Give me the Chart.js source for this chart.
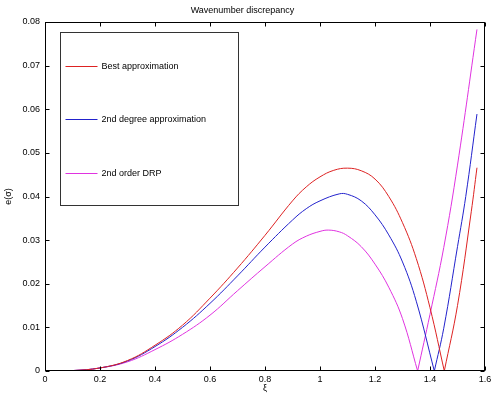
<!DOCTYPE html><html lang="en">
<head>
  <meta charset="UTF-8" />
  <title>Wavenumber discrepancy</title>
  <style>
    body { margin:0; background:#fff; }
    #wrap { width:491px; height:398px; }
  </style>
  <script src="https://cdn.jsdelivr.net/npm/chart.js"></script>
</head>
<body>
<div id="wrap"><canvas id="chart" width="491" height="398"></canvas></div>
<script>
  // values
  const xiBest = [0,0.1,0.2,0.3,0.4,0.5,0.6,0.7,0.8,0.9,0.95,1.0,1.05,1.1,1.15,1.2,1.25,1.3,1.35,1.4,1.452,1.5,1.55,1.5708];
  const eBest  = [0,0.0001,0.0007,0.0024,0.0059,0.0105,0.0167,0.0236,0.0311,0.0390,0.0422,0.0445,0.0460,0.0465,0.0459,0.0440,0.0400,0.0340,0.0258,0.0145,0,0.0150,0.0365,0.0466];
  const xiDeg  = [0,0.1,0.2,0.3,0.4,0.5,0.6,0.7,0.8,0.9,0.95,1.0,1.07,1.1,1.15,1.2,1.25,1.3,1.35,1.4157,1.45,1.5,1.53,1.5708];
  const eDeg   = [0,0.0001,0.0007,0.0023,0.0056,0.0100,0.0155,0.0218,0.0284,0.0346,0.0372,0.0390,0.0406,0.0405,0.0390,0.0358,0.0312,0.0250,0.0160,0,0.0098,0.0285,0.0400,0.0589];
  const xiDrp  = [0,0.1,0.2,0.3,0.4,0.5,0.6,0.7,0.8,0.9,0.95,1.0,1.03,1.07,1.1,1.15,1.2,1.25,1.3,1.355,1.4,1.45,1.5,1.5708];
  const eDrp   = [0,0.0001,0.0007,0.0021,0.0049,0.0084,0.0128,0.0184,0.0239,0.0291,0.0309,0.0320,0.0323,0.0319,0.0310,0.0285,0.0245,0.0192,0.0120,0,0.0130,0.0283,0.0472,0.0783];
  const seriesNames = ['Best approximation','2nd degree approximation','2nd order DRP'];
  const seriesColors = ['#dd2222','#2222cc','#e033e0'];
  const xTicks = [0,0.2,0.4,0.6,0.8,1,1.2,1.4,1.6];
  const xTickLabels = ['0','0.2','0.4','0.6','0.8','1','1.2','1.4','1.6'];
  const yTicks = [0,0.01,0.02,0.03,0.04,0.05,0.06,0.07,0.08];
  const yTickLabels = ['0','0.01','0.02','0.03','0.04','0.05','0.06','0.07','0.08'];

  const FONT = 'Liberation Sans, Arial, sans-serif';
  const f9 = {family:FONT, size:9, weight:'normal'};
  const pts = (xs,ys) => xs.map((x,i)=>({x:x,y:ys[i]}));
  const sets = [pts(xiBest,eBest), pts(xiDeg,eDeg), pts(xiDrp,eDrp)];

  // each curve is split at its zero so the V stays sharp
  const datasets = [];
  sets.forEach((d,i)=>{
    const z = d.findIndex(p=>p.x>1 && p.y===0);
    [d.slice(0,z+1), d.slice(z)].forEach(part=>datasets.push({label:seriesNames[i],data:part,borderColor:seriesColors[i],borderWidth:1,pointRadius:0,fill:false,tension:0.4}));
  });

  // axes box with inward ticks, like the original figure
  const boxPlugin = {
    id:'box',
    afterDraw(chart){
      const {ctx, chartArea:a, scales:{x,y}} = chart;
      const L=Math.round(a.left)+0.5, R=Math.round(a.right)-0.5, T=Math.round(a.top)+0.5, B=Math.round(a.bottom)-0.5;
      ctx.save(); ctx.strokeStyle='#000'; ctx.lineWidth=1;
      ctx.strokeRect(L,T,R-L,B-T);
      ctx.beginPath();
      xTicks.forEach(v=>{const p=Math.round(x.getPixelForValue(v))+0.5;ctx.moveTo(p,B);ctx.lineTo(p,B-4);ctx.moveTo(p,T);ctx.lineTo(p,T+4);});
      yTicks.forEach(v=>{const p=Math.round(y.getPixelForValue(v))+0.5;ctx.moveTo(L,p);ctx.lineTo(L+4,p);ctx.moveTo(R,p);ctx.lineTo(R-4,p);});
      ctx.stroke();
      // legend box
      const lx=L+15, ly=T+10, lw=178, lh=173;
      ctx.fillStyle='#fff'; ctx.fillRect(lx,ly,lw,lh);
      ctx.strokeStyle='#333'; ctx.strokeRect(lx,ly,lw,lh);
      ctx.font='9px '+FONT; ctx.textBaseline='middle'; ctx.textAlign='left';
      seriesNames.forEach((n,i)=>{
        const yy=Math.round(ly+33+i*53.5)+0.5;
        ctx.strokeStyle=seriesColors[i]; ctx.beginPath(); ctx.moveTo(lx+5,yy); ctx.lineTo(lx+37,yy); ctx.stroke();
        ctx.fillStyle='#000'; ctx.fillText(n,lx+41,yy);
      });
      ctx.restore();
    }
  };

  new Chart(document.getElementById('chart'),{
    type:'line',
    data:{datasets:datasets},
    options:{
      responsive:false, animation:false, devicePixelRatio:1,
      layout:{padding:{left:0,right:6,top:0,bottom:0}},
      plugins:{
        legend:{display:false}, tooltip:{enabled:false},
        title:{display:true,text:'Wavenumber discrepancy',color:'#000',font:f9,padding:{top:5,bottom:6.2}}
      },
      scales:{
        x:{type:'linear',min:0,max:1.6,
          afterBuildTicks:s=>{s.ticks=xTicks.map(v=>({value:v}));},
          afterFit:s=>{s.height=27;s.paddingLeft=0;s.paddingRight=0;},
          ticks:{callback:(v,i)=>xTickLabels[i],color:'#000',font:f9,padding:3,maxRotation:0,autoSkip:false},
          grid:{display:false,drawTicks:false},border:{display:false},
          title:{display:true,text:'ξ',color:'#000',font:f9,padding:{top:0,bottom:4}}},
        y:{type:'linear',min:0,max:0.08,
          afterBuildTicks:s=>{s.ticks=yTicks.map(v=>({value:v}));},
          afterFit:s=>{s.width=45;s.paddingTop=0;s.paddingBottom=0;},
          ticks:{callback:(v,i)=>yTickLabels[i],color:'#000',font:f9,padding:5,autoSkip:false},
          grid:{display:false,drawTicks:false},border:{display:false},
          title:{display:true,text:'e(σ)',color:'#000',font:f9,padding:{top:3,bottom:0}}}
      }
    },
    plugins:[boxPlugin]
  });
</script>
</body>
</html>
